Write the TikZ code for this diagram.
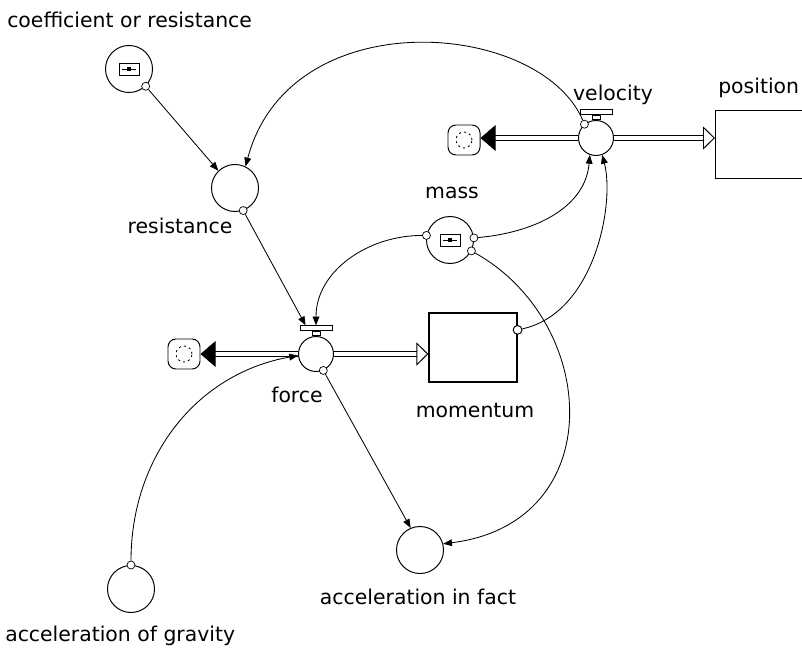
\documentclass[tikz,border=0pt]{standalone}
\usepackage{fontspec}
\setmainfont{DejaVu Sans}
\usetikzlibrary{positioning, arrows.meta, calc}

\begin{document}
\begin{tikzpicture}[x=0.025cm, y=0.025cm,
  lbl/.style={font=\fontsize{14.5}{17}\selectfont, inner sep=0pt},
  conv/.style={draw, circle, minimum size=1.175cm, inner sep=0pt, line width=0.7pt},
  valve/.style={draw, circle, minimum size=0.875cm, inner sep=0pt, line width=0.7pt},
  stock/.style={draw, rectangle, minimum width=2.2cm, minimum height=1.725cm,
                inner sep=0pt, line width=0.8pt},
  sink/.style={draw, rounded corners=0.2cm, minimum width=0.8cm, minimum height=0.75cm,
               line width=0.7pt, path picture={
                 \draw[dash pattern=on 1.5pt off 2.2pt, line width=0.6pt]
                   (path picture bounding box.center) circle (0.2cm);}},
  valvebar/.style={draw, fill=white, minimum width=0.8cm, minimum height=0.125cm,
                   inner sep=0pt, line width=0.6pt},
  valvestem/.style={draw, fill=white, minimum width=0.2cm, minimum height=0.1cm,
                    inner sep=0pt, line width=0.6pt},
  icon/.style={draw, minimum width=0.5cm, minimum height=0.3cm, inner sep=0pt,
               line width=0.6pt, path picture={
                 \draw ([xshift=0.07cm]path picture bounding box.west)
                   -- ([xshift=-0.07cm]path picture bounding box.east);
                 \fill ([shift={(-0.06cm,-0.045cm)}]path picture bounding box.center)
                   rectangle ([shift={(0.06cm,0.045cm)}]path picture bounding box.center);}},
  knob/.style={draw, circle, fill=white, minimum size=0.2cm, inner sep=0pt,
               line width=0.5pt, path picture={
                 \fill (path picture bounding box.center) circle (0.035cm);}},
  openknob/.style={draw, circle, fill=white, minimum size=0.22cm, inner sep=0pt,
                   line width=0.7pt},
  link/.style={-{Triangle[length=0.22cm, width=0.17cm]}, line width=0.6pt},
  pipe/.style={double, line width=0.7pt, double distance=2.8pt},
  outflow/.style={pipe, -{Triangle[length=0.38cm, width=0.65cm]}},
  inflow/.style={pipe, -{Triangle[open, fill=white, length=0.3cm, width=0.58cm]}},
]
  \useasboundingbox (0,0) rectangle (802,653);
  \clip (0,0) rectangle (802,653);

  % converters
  \node[conv] (coef) at (129,584) {};
  \node[icon] (coefi) at (coef) {};
  \node[lbl, anchor=west] (lcoef) at (7,633) {coefficient or resistance};

  \node[conv] (res) at (235,465) {};
  \node[lbl] (lres) at (180,427) {resistance};

  \node[conv] (mass) at (450,413) {};
  \node[icon] (massi) at (mass) {};
  \node[lbl] (lmass) at (452,460) {mass};

  \node[conv] (accf) at (420,103) {};
  \node[lbl] (laccf) at (418,56) {acceleration in fact};

  \node[conv] (grav) at (131,64) {};
  \node[lbl, anchor=west] (lgrav) at (5,17) {acceleration of gravity};

  % flows and stocks
  \node[valve] (vel) at (596,515) {};
  \node[valvestem, anchor=south] (vstem) at (vel.north) {};
  \node[valvebar, anchor=south] (vbar) at (vstem.north) {};
  \node[lbl] (lvel) at (613,558) {velocity};
  \node[sink] (cv) at (464,513) {};
  \node[stock, minimum width=3cm, minimum height=1.7cm, anchor=north west] (pos) at (715,543) {};
  \node[lbl, anchor=west] (lpos) at (718,565) {position};

  \node[valve] (force) at (316,299) {};
  \node[valvestem, anchor=south] (fstem) at (force.north) {};
  \node[valvebar, anchor=south] (fbar) at (fstem.north) {};
  \node[lbl] (lforce) at (297,258) {force};
  \node[sink] (cf) at (184,299) {};
  \node[stock] (mom) at (473,305.5) {};
  \node[lbl] (lmom) at (475,243) {momentum};

  \draw[outflow] (vel.west) -- (vel.west -| cv.east);
  \draw[inflow] (vel.east) -- (vel.east -| pos.west);
  \draw[outflow] (force.west) -- (force.west -| cf.east);
  \draw[inflow] (force.east) -- (force.east -| mom.west);

  % connectors
  \node[knob] (kcoef) at (coef.-46) {};
  \node[knob] (kres) at (res.-70) {};
  \node[knob] (kvel) at (vel.130) {};
  \node[knob] (kmass1) at (mass.169) {};
  \node[knob] (kmass2) at (mass.5) {};
  \node[knob] (kmass3) at (mass.-27) {};
  \node[knob] (kforce) at (force.-66) {};
  \node[knob] (kgrav) at (grav.north) {};
  \node[openknob] (kmom) at ([yshift=0.44cm]mom.east) {};

  \draw[link] (kcoef) -- (res.134);
  \draw[link] (kvel) .. controls (540,633) and (290,653) .. (res.64);
  \draw[link] (kres) -- ([xshift=0.15cm]fbar.north west);
  \draw[link] (kmass1) to[out=180, in=90] (fbar.north);
  \draw[link] (kmass2) to[out=5, in=-95] (vel.250);
  \draw[link] (kmom) .. controls (595,340) and (615,450) .. (vel.-70);
  \draw[link] (kmass3) .. controls (600,330) and (610,130) .. (accf.15);
  \draw[link] (kforce) -- (accf.113);
  \draw[link] (kgrav) to[out=90, in=190] (force.185);
\end{tikzpicture}
\end{document}
